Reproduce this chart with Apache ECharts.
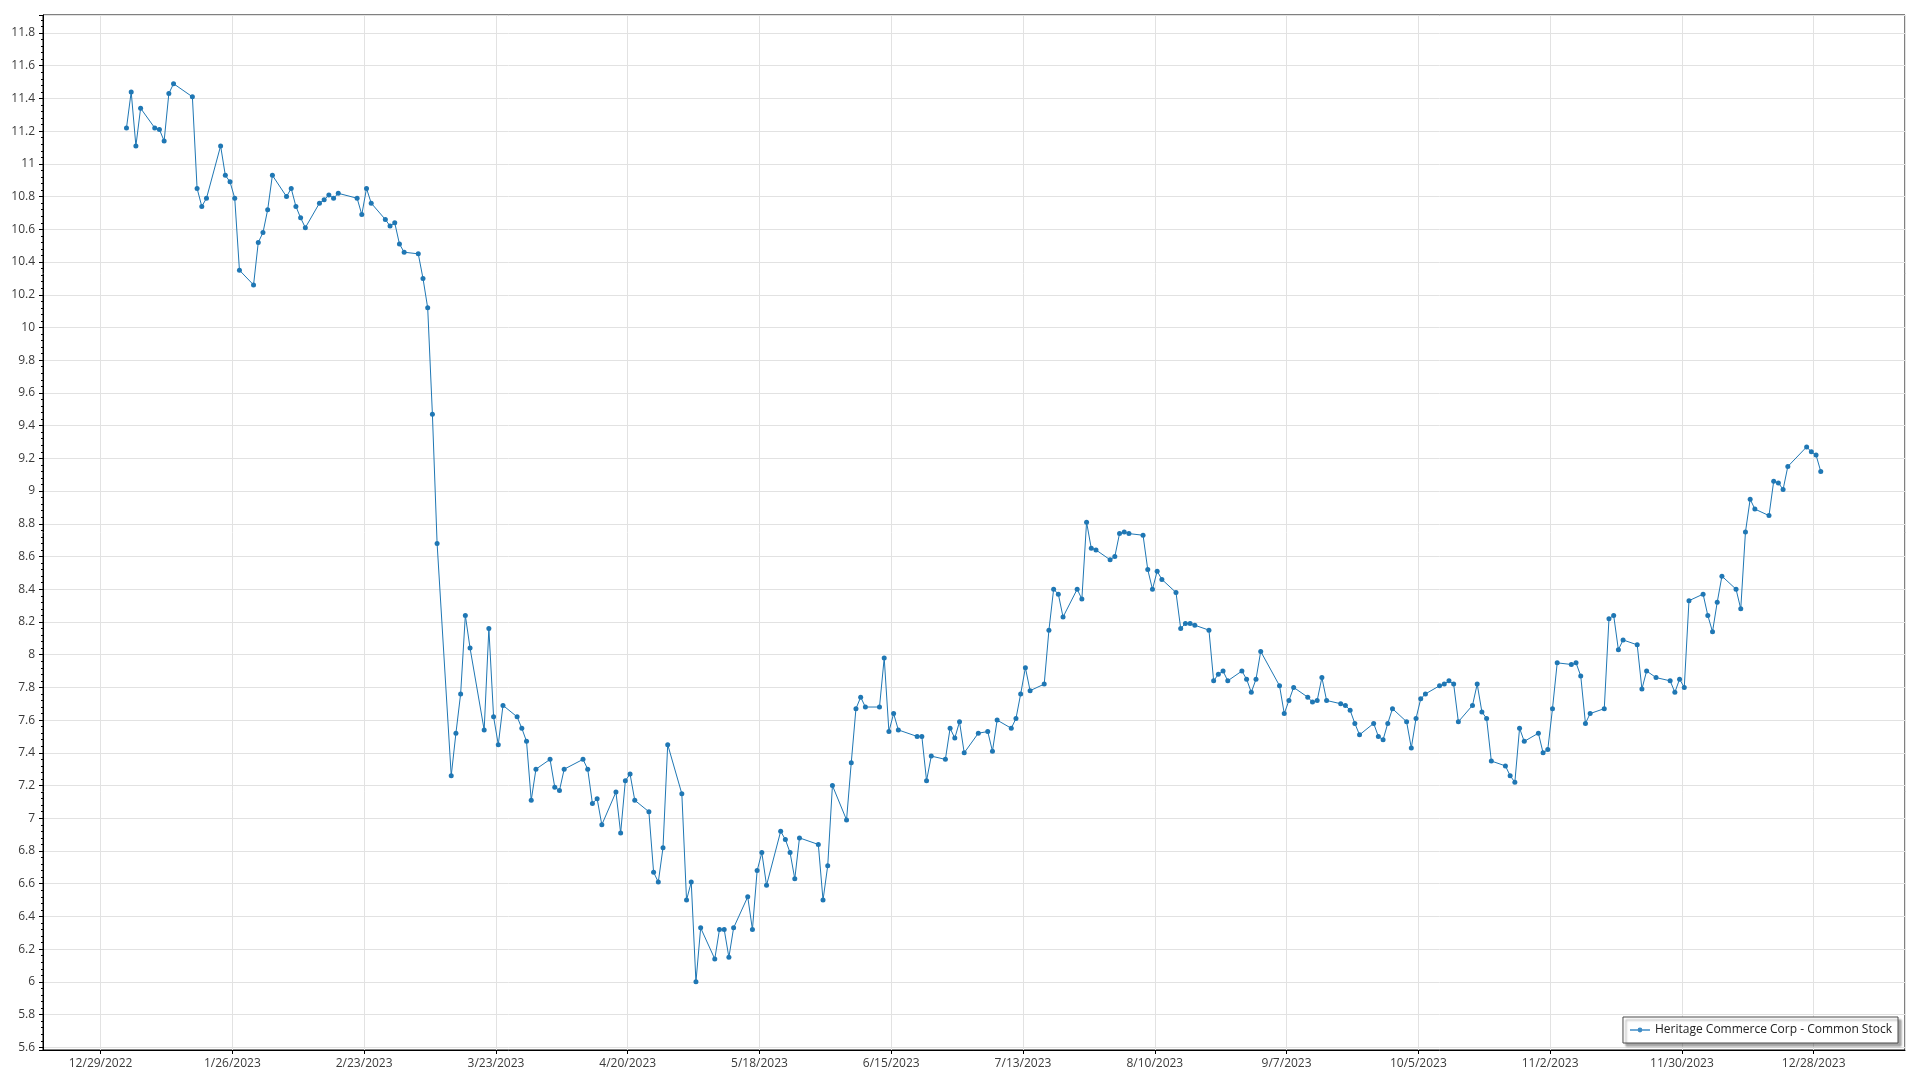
<!DOCTYPE html>
<html><head><meta charset="utf-8">
<script src="https://cdn.jsdelivr.net/npm/echarts@6/dist/echarts.min.js"></script>
<style>html,body{margin:0;padding:0;background:#fff}#chart{width:1920px;height:1080px}</style>
</head><body><div id="chart"></div>
<script>
const seriesName = 'Heritage Commerce Corp - Common Stock';

const dates = [
'2023-01-03','2023-01-04','2023-01-05','2023-01-06','2023-01-09','2023-01-10','2023-01-11','2023-01-12','2023-01-13',
'2023-01-17','2023-01-18','2023-01-19','2023-01-20','2023-01-23','2023-01-24','2023-01-25','2023-01-26','2023-01-27',
'2023-01-30','2023-01-31','2023-02-01','2023-02-02','2023-02-03','2023-02-06','2023-02-07','2023-02-08','2023-02-09',
'2023-02-10','2023-02-13','2023-02-14','2023-02-15','2023-02-16','2023-02-17','2023-02-21','2023-02-22','2023-02-23',
'2023-02-24','2023-02-27','2023-02-28','2023-03-01','2023-03-02','2023-03-03','2023-03-06','2023-03-07','2023-03-08',
'2023-03-09','2023-03-10','2023-03-13','2023-03-14','2023-03-15','2023-03-16','2023-03-17','2023-03-20','2023-03-21',
'2023-03-22','2023-03-23','2023-03-24','2023-03-27','2023-03-28','2023-03-29','2023-03-30','2023-03-31','2023-04-03',
'2023-04-04','2023-04-05','2023-04-06','2023-04-10','2023-04-11','2023-04-12','2023-04-13','2023-04-14','2023-04-17',
'2023-04-18','2023-04-19','2023-04-20','2023-04-21','2023-04-24','2023-04-25','2023-04-26','2023-04-27','2023-04-28',
'2023-05-01','2023-05-02','2023-05-03','2023-05-04','2023-05-05','2023-05-08','2023-05-09','2023-05-10','2023-05-11',
'2023-05-12','2023-05-15','2023-05-16','2023-05-17','2023-05-18','2023-05-19','2023-05-22','2023-05-23','2023-05-24',
'2023-05-25','2023-05-26','2023-05-30','2023-05-31','2023-06-01','2023-06-02','2023-06-05','2023-06-06','2023-06-07',
'2023-06-08','2023-06-09','2023-06-12','2023-06-13','2023-06-14','2023-06-15','2023-06-16','2023-06-20','2023-06-21',
'2023-06-22','2023-06-23','2023-06-26','2023-06-27','2023-06-28','2023-06-29','2023-06-30','2023-07-03','2023-07-05',
'2023-07-06','2023-07-07','2023-07-10','2023-07-11','2023-07-12','2023-07-13','2023-07-14','2023-07-17','2023-07-18',
'2023-07-19','2023-07-20','2023-07-21','2023-07-24','2023-07-25','2023-07-26','2023-07-27','2023-07-28','2023-07-31',
'2023-08-01','2023-08-02','2023-08-03','2023-08-04','2023-08-07','2023-08-08','2023-08-09','2023-08-10','2023-08-11',
'2023-08-14','2023-08-15','2023-08-16','2023-08-17','2023-08-18','2023-08-21','2023-08-22','2023-08-23','2023-08-24',
'2023-08-25','2023-08-28','2023-08-29','2023-08-30','2023-08-31','2023-09-01','2023-09-05','2023-09-06','2023-09-07',
'2023-09-08','2023-09-11','2023-09-12','2023-09-13','2023-09-14','2023-09-15','2023-09-18','2023-09-19','2023-09-20',
'2023-09-21','2023-09-22','2023-09-25','2023-09-26','2023-09-27','2023-09-28','2023-09-29','2023-10-02','2023-10-03',
'2023-10-04','2023-10-05','2023-10-06','2023-10-09','2023-10-10','2023-10-11','2023-10-12','2023-10-13','2023-10-16',
'2023-10-17','2023-10-18','2023-10-19','2023-10-20','2023-10-23','2023-10-24','2023-10-25','2023-10-26','2023-10-27',
'2023-10-30','2023-10-31','2023-11-01','2023-11-02','2023-11-03','2023-11-06','2023-11-07','2023-11-08','2023-11-09',
'2023-11-10','2023-11-13','2023-11-14','2023-11-15','2023-11-16','2023-11-17','2023-11-20','2023-11-21','2023-11-22',
'2023-11-24','2023-11-27','2023-11-28','2023-11-29','2023-11-30','2023-12-01','2023-12-04','2023-12-05','2023-12-06',
'2023-12-07','2023-12-08','2023-12-11','2023-12-12','2023-12-13','2023-12-14','2023-12-15','2023-12-18','2023-12-19',
'2023-12-20','2023-12-21','2023-12-22','2023-12-26','2023-12-27','2023-12-28','2023-12-29'
];

const closes = [
11.22,11.44,11.11,11.34,11.22,11.21,11.14,11.43,11.49,
11.41,10.85,10.74,10.79,11.11,10.93,10.89,10.79,10.35,
10.26,10.52,10.58,10.72,10.93,10.80,10.85,10.74,10.67,
10.61,10.76,10.78,10.81,10.79,10.82,10.79,10.69,10.85,
10.76,10.66,10.62,10.64,10.51,10.46,10.45,10.30,10.12,
9.47,8.68,7.26,7.52,7.76,8.24,8.04,7.54,8.16,
7.62,7.45,7.69,7.62,7.55,7.47,7.11,7.30,7.36,
7.19,7.17,7.30,7.36,7.30,7.09,7.12,6.96,7.16,
6.91,7.23,7.27,7.11,7.04,6.67,6.61,6.82,7.45,
7.15,6.50,6.61,6.00,6.33,6.14,6.32,6.32,6.15,
6.33,6.52,6.32,6.68,6.79,6.59,6.92,6.87,6.79,
6.63,6.88,6.84,6.50,6.71,7.20,6.99,7.34,7.67,
7.74,7.68,7.68,7.98,7.53,7.64,7.54,7.50,7.50,
7.23,7.38,7.36,7.55,7.49,7.59,7.40,7.52,7.53,
7.41,7.60,7.55,7.61,7.76,7.92,7.78,7.82,8.15,
8.40,8.37,8.23,8.40,8.34,8.81,8.65,8.64,8.58,
8.60,8.74,8.75,8.74,8.73,8.52,8.40,8.51,8.46,
8.38,8.16,8.19,8.19,8.18,8.15,7.84,7.88,7.90,
7.84,7.90,7.85,7.77,7.85,8.02,7.81,7.64,7.72,
7.80,7.74,7.71,7.72,7.86,7.72,7.70,7.69,7.66,
7.58,7.51,7.58,7.50,7.48,7.58,7.67,7.59,7.43,
7.61,7.73,7.76,7.81,7.82,7.84,7.82,7.59,7.69,
7.82,7.65,7.61,7.35,7.32,7.26,7.22,7.55,7.47,
7.52,7.40,7.42,7.67,7.95,7.94,7.95,7.87,7.58,
7.64,7.67,8.22,8.24,8.03,8.09,8.06,7.79,7.90,
7.86,7.84,7.77,7.85,7.80,8.33,8.37,8.24,8.14,
8.32,8.48,8.40,8.28,8.75,8.95,8.89,8.85,9.06,
9.05,9.01,9.15,9.27,9.24,9.22,9.12
];

// tick settings
const xTickOrigin = [2022, 12, 29];   // first labelled date
const xTickStepDays = 28;
const yTickStep = 0.2;
const sampleTimeOfDay = 0.5;          // closes stamped at midday

const DAY = 86400000;
const originMs = Date.UTC(xTickOrigin[0], xTickOrigin[1] - 1, xTickOrigin[2]);
function dayOffset(s) {
  const p = s.split('-').map(Number);
  return (Date.UTC(p[0], p[1] - 1, p[2]) - originMs) / DAY;
}
function fmtDay(v) {
  const d = new Date(originMs + Math.round(v) * DAY);
  return (d.getUTCMonth() + 1) + '/' + d.getUTCDate() + '/' + d.getUTCFullYear();
}

const seriesData = dates.map((d, i) => [dayOffset(d) + sampleTimeOfDay, closes[i]]);

const xMin = -12.24, xMax = 383.4;
const yMin = 5.5835, yMax = 11.91;

const labelFont = { color: '#3a3a3a', fontSize: 12, fontFamily: '"Open Sans", "Noto Sans", sans-serif' };
const lineColor = '#1f77b4';

const chart = echarts.init(document.getElementById('chart'), null, { renderer: 'canvas' });
chart.setOption({
  animation: false,
  backgroundColor: '#fff',
  grid: { left: 43, right: 15, top: 15, bottom: 30, show: true, borderColor: '#000', borderWidth: 1, containLabel: false },
  legend: {
    show: true,
    right: 22, bottom: 37,
    orient: 'horizontal',
    data: [{ name: seriesName, icon: 'path://M0 2.2 H20 V3.6 H0 Z M12.4 2.9 A2.4 2.4 0 1 1 7.6 2.9 A2.4 2.4 0 1 1 12.4 2.9 Z' }],
    itemStyle: { color: '#3f8cc6' },
    backgroundColor: '#fff',
    borderColor: '#4a4a4a',
    borderWidth: 1,
    borderRadius: 0,
    padding: [7, 6, 7, 7],
    itemWidth: 20, itemHeight: 5,
    itemGap: 5,
    shadowColor: 'rgba(0,0,0,0.35)', shadowBlur: 2, shadowOffsetX: 3, shadowOffsetY: 3,
    textStyle: { color: '#222', fontSize: 12, fontFamily: '"Open Sans", "Noto Sans", sans-serif' }
  },
  xAxis: {
    type: 'value',
    min: xMin, max: xMax,
    minInterval: xTickStepDays, maxInterval: xTickStepDays,
    axisLine: { show: true, onZero: false, lineStyle: { color: '#000', width: 1 } },
    axisTick: { show: true, length: 4, lineStyle: { color: '#000' } },
    axisLabel: Object.assign({ margin: 8, showMinLabel: false, showMaxLabel: false, formatter: fmtDay }, labelFont),
    splitLine: { show: true, lineStyle: { color: '#e2e2e2', width: 1 } }
  },
  yAxis: {
    type: 'value',
    min: yMin, max: yMax,
    minInterval: yTickStep, maxInterval: yTickStep,
    axisLine: { show: true, onZero: false, lineStyle: { color: '#000', width: 1 } },
    axisTick: { show: true, length: 4, lineStyle: { color: '#000' } },
    minorTick: { show: true, splitNumber: 5, length: 2, lineStyle: { color: '#000' } },
    axisLabel: Object.assign({ margin: 8, showMinLabel: false, showMaxLabel: false,
      formatter: v => String(+(+v).toFixed(2)) }, labelFont),
    splitLine: { show: true, lineStyle: { color: '#e2e2e2', width: 1 } }
  },
  series: [{
    name: seriesName,
    type: 'line',
    data: seriesData,
    showSymbol: true, showAllSymbol: true,
    symbol: 'circle', symbolSize: 5,
    itemStyle: { color: lineColor },
    lineStyle: { color: lineColor, width: 1 },
    emphasis: { disabled: true }
  }]
});
</script></body></html>
